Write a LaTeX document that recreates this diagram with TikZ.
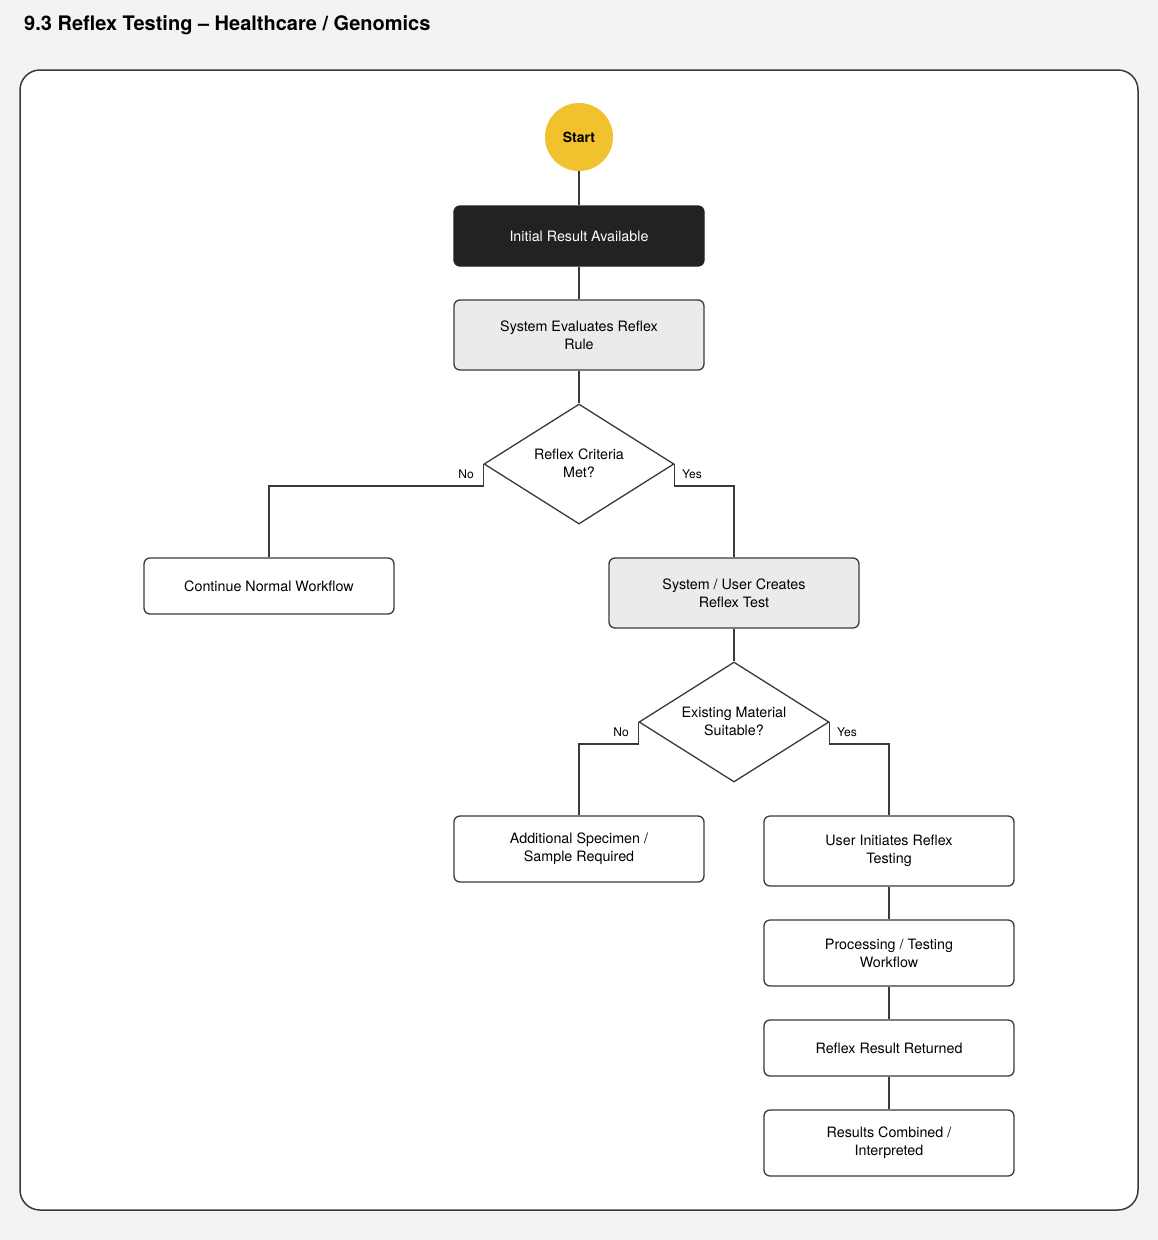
\documentclass[tikz,border=0pt]{standalone}
\usepackage{fontspec}
\setmainfont{TeX Gyre Heros}
\usetikzlibrary{shapes.geometric}
\definecolor{bgc}{HTML}{F3F3F2}
\definecolor{linec}{HTML}{3A3A3A}
\definecolor{darkc}{HTML}{222222}
\definecolor{grayc}{HTML}{EBEBE9}
\definecolor{yellowc}{HTML}{F2C12E}
\tikzset{
  box/.style={draw=linec, line width=1.3pt, rounded corners=6pt, minimum width=250pt, align=center, font=\fontsize{14.3}{18}\selectfont, text=black, inner sep=0pt},
  whitebox/.style={box, fill=white},
  graybox/.style={box, fill=grayc},
  darkbox/.style={box, fill=darkc, draw=darkc, text=white},
  decision/.style={diamond, draw=linec, line width=1.3pt, fill=white, minimum width=190pt, minimum height=120pt, inner sep=0pt},
  dtext/.style={align=center, font=\fontsize{14.3}{18}\selectfont, inner sep=0pt},
  conn/.style={draw=linec, line width=1.5pt},
  lbl/.style={font=\fontsize{12}{14}\selectfont, inner sep=0pt}
}
\begin{document}
\begin{tikzpicture}[x=1pt,y=-1pt]
\fill[bgc] (0,0) rectangle (1158,1240);
\useasboundingbox (0,0) rectangle (1158,1240);
\node[anchor=west, font=\bfseries\fontsize{20}{24}\selectfont, inner sep=0pt] (title) at (24,25) {9.3 Reflex Testing – Healthcare / Genomics};
\draw[fill=white, draw=linec, line width=1.5pt, rounded corners=20pt] (20,70) rectangle (1138,1210);

\node[circle, fill=yellowc, minimum size=68pt, inner sep=0pt, font=\bfseries\fontsize{14}{16}\selectfont] (start) at (579,137) {Start};
\node[darkbox, minimum height=60pt] (init) at (579,236) {Initial Result Available};
\node[graybox, minimum height=70pt] (eval) at (579,335) {System Evaluates Reflex\\Rule};
\node[decision] (d1) at (579,464) {};
\node[dtext] (d1t) at (579,463) {Reflex Criteria\\Met?};
\node[whitebox, minimum height=56pt] (cont) at (269,586) {Continue Normal Workflow};
\node[graybox, minimum height=70pt] (create) at (734,593) {System / User Creates\\Reflex Test};
\node[decision] (d2) at (734,722) {};
\node[dtext] (d2t) at (734,721) {Existing Material\\Suitable?};
\node[whitebox, minimum height=66pt] (addl) at (579,849) {Additional Specimen /\\Sample Required};
\node[whitebox, minimum height=70pt] (user) at (889,851) {User Initiates Reflex\\Testing};
\node[whitebox, minimum height=66pt] (proc) at (889,953) {Processing / Testing\\Workflow};
\node[whitebox, minimum height=56pt] (ret) at (889,1048) {Reflex Result Returned};
\node[whitebox, minimum height=66pt] (comb) at (889,1143) {Results Combined /\\Interpreted};

\draw[conn] (start) -- (init);
\draw[conn] (init) -- (eval);
\draw[conn] (eval) -- (d1.north);
\draw[conn] (d1.west) -- ++(0,22) -| (cont.north);
\draw[conn] (d1.east) -- ++(0,22) -| (create.north);
\draw[conn] (create) -- (d2.north);
\draw[conn] (d2.west) -- ++(0,22) -| (addl.north);
\draw[conn] (d2.east) -- ++(0,22) -| (user.north);
\draw[conn] (user) -- (proc);
\draw[conn] (proc) -- (ret);
\draw[conn] (ret) -- (comb);

\node[lbl] (no1) at (466,474) {No};
\node[lbl] (yes1) at (692,474) {Yes};
\node[lbl] (no2) at (621,732) {No};
\node[lbl] (yes2) at (847,732) {Yes};
\end{tikzpicture}
\end{document}
